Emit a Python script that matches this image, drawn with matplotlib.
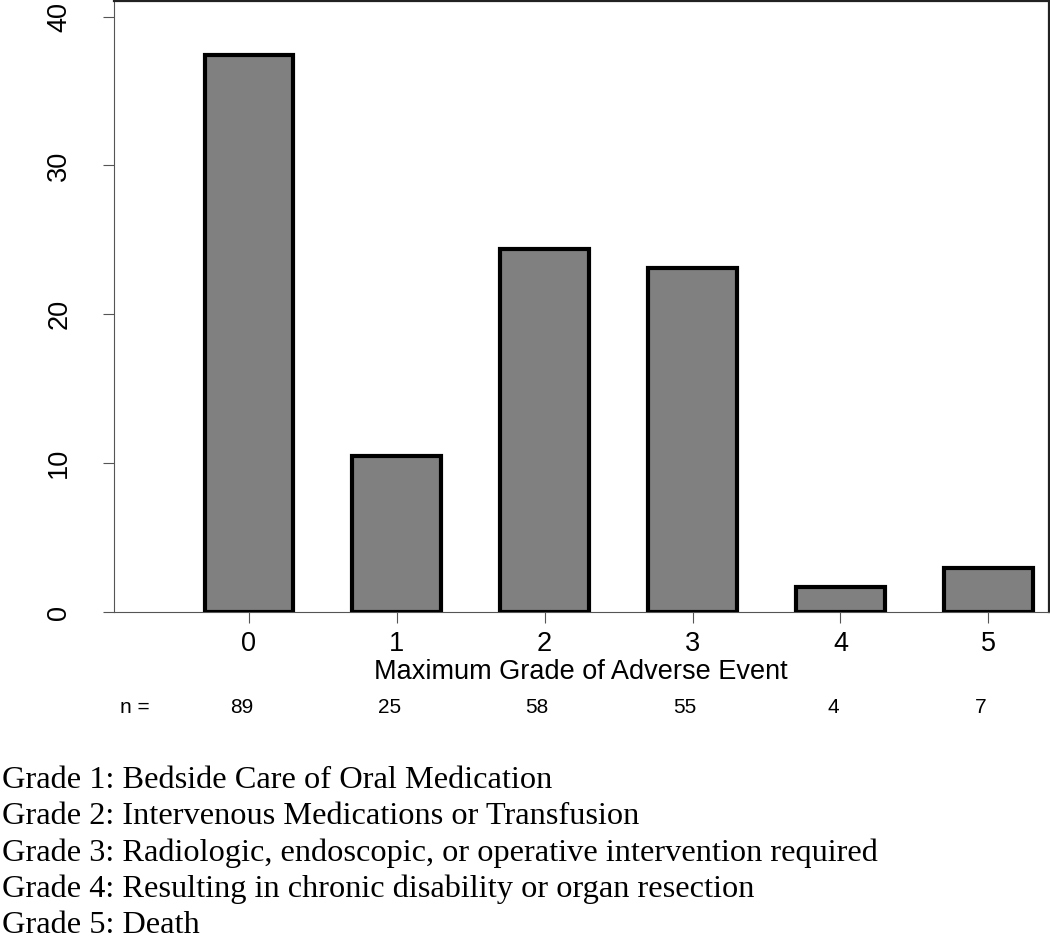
import matplotlib
matplotlib.use("Agg")
import matplotlib.pyplot as plt
import matplotlib.transforms as mtransforms
import numpy as np

# data
grades = ["0", "1", "2", "3", "4", "5"]
counts = [89, 25, 58, 55, 4, 7]
yticks = [0, 10, 20, 30, 40]
xlabel = "Maximum Grade of Adverse Event"
footnotes = [
    "Grade 1: Bedside Care of Oral Medication",
    "Grade 2: Intervenous Medications or Transfusion",
    "Grade 3: Radiologic, endoscopic, or operative intervention required",
    "Grade 4: Resulting in chronic disability or organ resection",
    "Grade 5: Death",
]

pct = 100.0 * np.array(counts) / sum(counts)
x = np.arange(len(grades))

W, H = 1050, 936
fig = plt.figure(figsize=(W / 100, H / 100), dpi=100)
ax = fig.add_axes([114 / W, 1 - 612 / H, (1049 - 114) / W, 611 / H])

sans = "Liberation Sans"
serif = "Liberation Serif"

ax.bar(x, pct, width=0.6, color="#808080", edgecolor="black", linewidth=3.0, zorder=3)
ax.set_xlim(-0.912, 5.41)
ax.set_ylim(0, 41.05)

ax.set_yticks(yticks)
ax.set_yticklabels([str(t) for t in yticks], rotation=90, va="center",
                   fontsize=19.5, family=sans)
ax.set_xticks(x)
ax.set_xticklabels(grades, fontsize=19.5, family=sans)
ax.tick_params(axis="y", length=8, width=0.8, color="#555555", pad=22)
ax.tick_params(axis="x", length=8, width=0.8, color="#555555", pad=6)

for side in ["left", "bottom"]:
    ax.spines[side].set_linewidth(0.8)
    ax.spines[side].set_color("#555555")
for side in ["top", "right"]:
    ax.spines[side].set_linewidth(1.6)
    ax.spines[side].set_color("#222222")

fig.text(581 / W, 1 - 679 / H, xlabel, ha="center", va="baseline",
         fontsize=19.5, family=sans)

# n = row below the axis
trans = mtransforms.blended_transform_factory(ax.transData, fig.transFigure)
fig.text(120 / W, 1 - 713 / H, "n =", ha="left", va="baseline",
         fontsize=15, family=sans)
for xi, n in zip(x, counts):
    ax.text(xi - 0.05, 1 - 713 / H, str(n), transform=trans, ha="center",
            va="baseline", fontsize=15, family=sans)

for i, line in enumerate(footnotes):
    fig.text(2 / W, 1 - (788 + 36.3 * i) / H, line, ha="left", va="baseline",
             fontsize=23.3, family=serif)

fig.savefig("out.png", dpi=100)
